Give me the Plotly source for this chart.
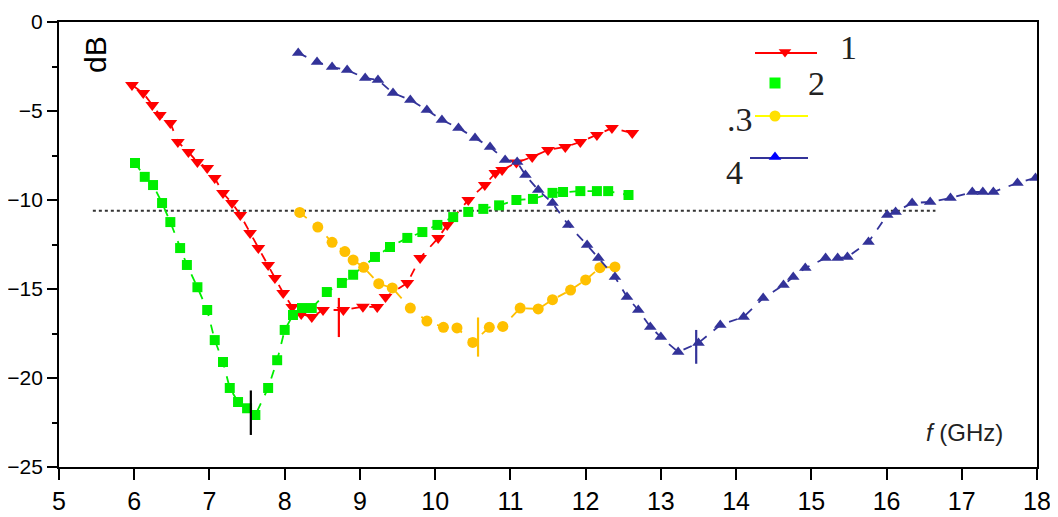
import plotly.graph_objects as go

# ---------------- data ----------------
red_x = [5.97, 6.12, 6.24, 6.34, 6.48, 6.58, 6.72, 6.84, 6.97, 7.07, 7.18, 7.30, 7.41,
         7.54, 7.65, 7.78, 7.87, 7.98, 8.10, 8.22, 8.36, 8.51, 8.78, 9.04, 9.23, 9.34,
         9.63, 9.80, 10.04, 10.16, 10.44, 10.66, 10.80, 10.89, 11.08, 11.29, 11.50,
         11.73, 11.93, 12.15, 12.35, 12.62]
red_y = [-3.54, -3.99, -4.66, -5.22, -5.67, -6.74, -7.30, -7.87, -8.20, -8.76, -9.61,
         -10.17, -10.84, -11.85, -12.70, -13.65, -14.38, -15.22, -16.01, -16.4, -16.57,
         -16.18, -16.18, -16.0, -16.01, -15.45, -14.66, -13.26, -12.13, -11.4, -10.0,
         -9.16, -8.48, -8.31, -7.9, -7.58, -7.19, -7.02, -6.74, -6.35, -5.96, -6.24]

green_x = [6.01, 6.14, 6.25, 6.37, 6.48, 6.61, 6.70, 6.84, 6.97, 7.07, 7.18, 7.27, 7.38,
           7.50, 7.61, 7.78, 7.90, 8.00, 8.11, 8.23, 8.36, 8.56, 8.76, 8.91, 9.20, 9.40,
           9.63, 9.83, 10.03, 10.24, 10.44, 10.64, 10.85, 11.08, 11.30, 11.56, 11.70,
           11.93, 12.15, 12.30, 12.57]
green_y = [-7.92, -8.7, -9.16, -10.17, -11.24, -12.7, -13.65, -14.9, -16.18, -17.87,
           -19.1, -20.56, -21.35, -21.7, -22.08, -20.56, -19.0, -17.3, -16.46, -16.07,
           -16.07, -15.17, -14.66, -14.2, -13.2, -12.64, -12.13, -11.8, -11.4, -10.96,
           -10.67, -10.5, -10.3, -10.0, -9.94, -9.6, -9.55, -9.5, -9.5, -9.5, -9.72]

yellow_x = [8.20, 8.44, 8.63, 8.80, 8.91, 9.05, 9.25, 9.43, 9.67, 9.89, 10.11, 10.29,
            10.50, 10.72, 10.90, 11.13, 11.37, 11.56, 11.80, 12.00, 12.19, 12.39]
yellow_y = [-10.7, -11.52, -12.38, -12.9, -13.37, -13.78, -14.7, -14.94, -16.07, -16.8,
            -17.15, -17.19, -18.0, -17.15, -17.1, -16.07, -16.12, -15.6, -15.06, -14.49,
            -13.8, -13.76]

blue_x = [8.18, 8.43, 8.63, 8.83, 9.07, 9.24, 9.44, 9.67, 9.89, 10.09, 10.31, 10.53,
          10.73, 10.93, 11.09, 11.20, 11.37, 11.56, 11.77, 12.02, 12.17, 12.39, 12.55,
          12.70, 12.86, 13.00, 13.23, 13.50, 13.79, 14.10, 14.36, 14.63, 14.76, 14.92,
          15.19, 15.35, 15.48, 15.76, 16.01, 16.12, 16.34, 16.58, 16.85, 17.14, 17.28,
          17.42, 17.74, 17.98]
blue_y = [-1.74, -2.25, -2.53, -2.7, -3.15, -3.26, -3.99, -4.38, -4.94, -5.5, -5.96,
          -6.52, -7.02, -7.75, -7.87, -8.6, -9.44, -10.17, -11.4, -12.53, -13.26, -14.33,
          -15.45, -16.18, -17.13, -17.7, -18.54, -18.03, -17.02, -16.57, -15.51, -14.78,
          -14.33, -13.82, -13.26, -13.26, -13.2, -12.36, -10.84, -10.67, -10.17, -10.11,
          -9.89, -9.55, -9.55, -9.55, -9.04, -8.76]

# reference level (dotted line)
ref_level = -10.6
ref_x = [5.45, 16.65]

# minimum cursors (vertical bars)
min_x = [7.55, 8.72, 10.57, 13.47]
min_top = [-20.7, -15.5, -16.6, -17.3]
min_bottom = [-23.2, -17.7, -18.8, -19.2]
min_colors = ["black", "red", "#FFC000", "#333399"]

series_names = ["1", "2", "3", "4"]
x_ticks = list(range(5, 19))
y_ticks = [0, -5, -10, -15, -20, -25]

# ---------------- figure ----------------
fig = go.Figure()

fig.add_trace(go.Scatter(x=ref_x, y=[ref_level, ref_level], mode="lines",
                         line=dict(color="#333", width=2, dash="dot"),
                         showlegend=False, hoverinfo="skip"))

styles = [
    (red_x, red_y, "#FF0000", "#FF0000", "triangle-down", 12),
    (green_x, green_y, "#00EE00", "#00EE00", "square", 10),
    (yellow_x, yellow_y, "#FFC000", "#FFC000", "circle", 11),
    (blue_x, blue_y, "#333399", "#333399", "triangle-up", 11),
]
for name, (xs, ys, lc, mc, sym, sz) in zip(series_names, styles):
    fig.add_trace(go.Scatter(x=xs, y=ys, mode="lines+markers", name=name,
                             line=dict(color=lc, width=1.8, dash="dash"),
                             marker=dict(color=mc, symbol=sym, size=sz),
                             showlegend=False))

for mx, mt, mb, mc in zip(min_x, min_top, min_bottom, min_colors):
    fig.add_trace(go.Scatter(x=[mx, mx], y=[mt, mb], mode="lines",
                             line=dict(color=mc, width=2.2),
                             showlegend=False, hoverinfo="skip"))

# ---------------- custom legend (overlay axes in pixel units of the plot area) ----
leg_lines = [
    ([755, 817], [53, 53], "#FF0000"),
    (None, None, None),
    ([755, 808], [116, 116], "#FFFF00"),
    ([750, 808], [158, 158], "#333399"),
]
leg_marks = [
    (785, 52, "#FF0000", "triangle-down", 11),
    (775, 83, "#00FF00", "square", 11),
    (775, 116, "#FFE000", "circle", 11),
    (775, 157, "#0000FF", "triangle-up", 11),
]
for (lx, ly, lc) in leg_lines:
    if lx is None:
        continue
    fig.add_trace(go.Scatter(x=lx, y=ly, mode="lines", xaxis="x2", yaxis="y2",
                             line=dict(color=lc, width=2), showlegend=False,
                             hoverinfo="skip"))
for (mx, my, mc, sym, sz) in leg_marks:
    fig.add_trace(go.Scatter(x=[mx], y=[my], mode="markers", xaxis="x2", yaxis="y2",
                             marker=dict(color=mc, symbol=sym, size=sz),
                             showlegend=False, hoverinfo="skip"))

leg_labels = [(848, 47, "1"), (816, 83, "2"), (740, 119, ".3"), (734, 172, "4")]
annotations = []
for (tx, ty, t) in leg_labels:
    annotations.append(dict(x=tx, y=ty, xref="x2", yref="y2", text=t, showarrow=False,
                            font=dict(family="Liberation Serif", size=34, color="#222")))

annotations.append(dict(x=95, y=55, xref="x2", yref="y2", text="dB", showarrow=False,
                        textangle=-90,
                        font=dict(family="Liberation Sans", size=30, color="black")))
annotations.append(dict(x=964, y=432, xref="x2", yref="y2", text="<i>f</i> (GHz)",
                        showarrow=False,
                        font=dict(family="Liberation Sans", size=24, color="#222")))

# the page body adds an 8px margin, so the figure is 8px smaller and shifted
fig.update_layout(
    width=1050, height=509,
    margin=dict(l=51, r=21, t=14, b=50, autoexpand=False),
    paper_bgcolor="white", plot_bgcolor="white",
    showlegend=False,
    xaxis=dict(range=[5, 18], tickvals=x_ticks, ticks="outside", ticklen=11,
               tickwidth=2, tickcolor="black", showline=True, linecolor="black",
               linewidth=2, mirror=True, showgrid=False, zeroline=False,
               automargin=False,
               tickfont=dict(family="Liberation Sans", size=25, color="black")),
    yaxis=dict(range=[-25, 0], tickvals=y_ticks, ticks="outside", ticklen=10,
               tickwidth=2, tickcolor="black", showline=True, linecolor="black",
               linewidth=2, mirror=True, showgrid=False, zeroline=False,
               automargin=False,
               minor=dict(dtick=2.5, ticks="outside", ticklen=5, tickcolor="black",
                          tickwidth=1.5),
               tickfont=dict(family="Liberation Sans", size=21, color="black")),
    xaxis2=dict(range=[59, 1037], overlaying="x", visible=False, fixedrange=True),
    yaxis2=dict(range=[467, 22], overlaying="y", visible=False, fixedrange=True),
    annotations=annotations,
)

fig.write_html("out.html")
